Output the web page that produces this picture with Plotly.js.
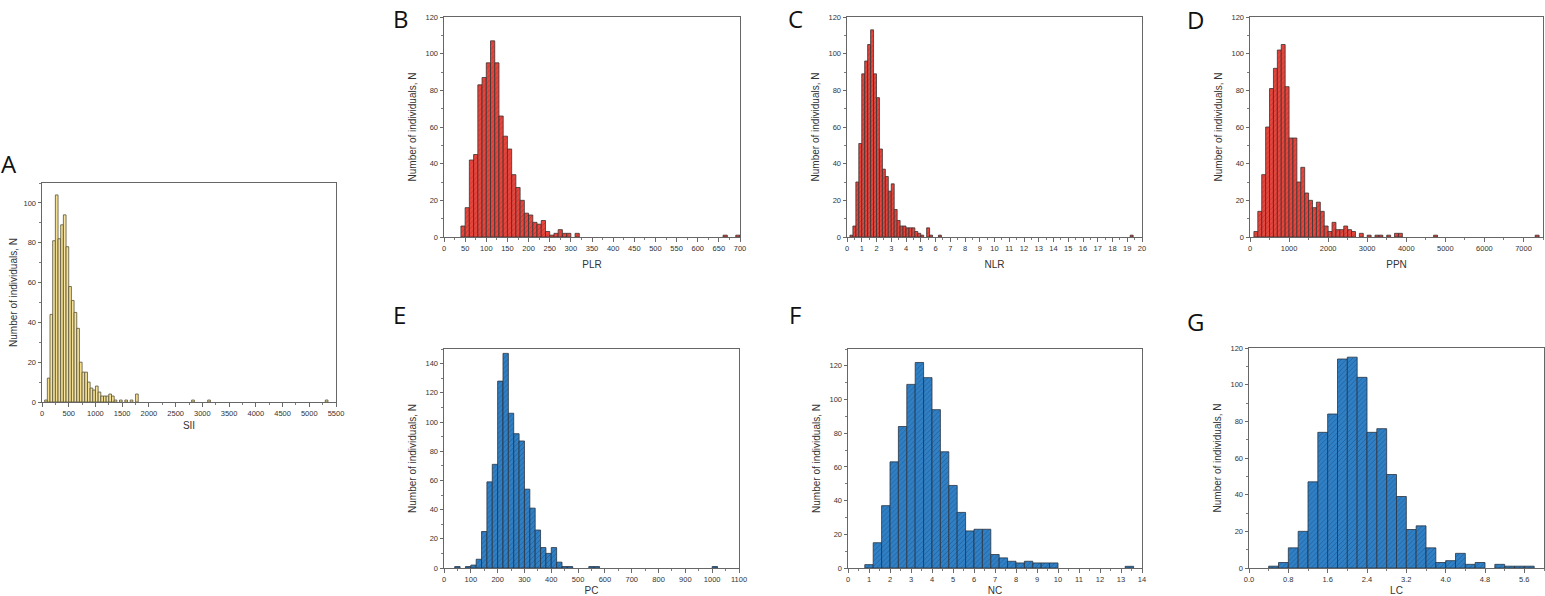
<!DOCTYPE html>
<html>
<head>
<meta charset="utf-8">
<script src="https://cdn.plot.ly/plotly-3.0.1.min.js"></script>
<style>html,body{margin:0;padding:0;background:#fff;}#chart{width:1545px;height:596px;}</style>
</head>
<body>
<div id="chart"></div>
<script>
// ---- Data (bin start values and counts) ----
// A: SII, bin width 50
const siiBins = [50,100,150,200,250,300,350,400,450,500,550,600,650,700,750,800,850,900,950,1000,1050,1100,1150,1200,1250,1300,1350,1450,1550,1650,1750,2800,3100,5300];
const siiCounts = [1,12,44,81,104,82,89,94,78,58,51,45,37,20,15,15,10,7,6,8,5,3,3,3,4,3,1,1,1,1,4,1,1,1];
// B: PLR, bin width 10
const plrBins = [40,50,60,70,80,90,100,110,120,130,140,150,160,170,180,190,200,210,220,230,240,250,260,270,280,290,310,660,690];
const plrCounts = [6,16,42,45,83,87,95,107,95,66,55,48,34,27,20,13,12,8,7,9,3,1,2,4,2,2,2,1,1];
// C: NLR, bin width 0.2
const nlrBins = [0.2,0.4,0.6,0.8,1.0,1.2,1.4,1.6,1.8,2.0,2.2,2.4,2.6,2.8,3.0,3.2,3.4,3.6,3.8,4.0,4.2,4.4,4.6,4.8,5.0,5.4,5.6,6.2,19.2];
const nlrCounts = [1,6,30,51,89,96,105,113,89,76,48,37,33,25,29,15,9,6,6,5,5,5,3,2,1,5,1,1,1];
// D: PPN, bin width 100
const ppnBins = [100,200,300,400,500,600,700,800,900,1000,1100,1200,1300,1400,1500,1600,1700,1800,1900,2000,2100,2200,2300,2400,2500,2600,2800,3000,3200,3300,3500,3700,3800,4700,7300];
const ppnCounts = [3,14,34,60,81,92,102,105,82,54,54,30,38,24,20,16,19,14,6,3,8,4,4,6,4,3,2,1,1,1,1,2,2,1,1];
// E: PC, bin width 20
const pcBins = [40,80,100,120,140,160,180,200,220,240,260,280,300,320,340,360,380,400,420,440,460,540,560,1000];
const pcCounts = [1,1,2,6,25,59,71,128,147,106,92,87,54,41,26,14,10,14,4,1,1,1,1,1];
// F: NC, bin width 0.4
const ncBins = [0.8,1.2,1.6,2.0,2.4,2.8,3.2,3.6,4.0,4.4,4.8,5.2,5.6,6.0,6.4,6.8,7.2,7.6,8.0,8.4,8.8,9.2,9.6,13.2];
const ncCounts = [2,15,37,63,84,109,122,113,94,69,49,33,22,23,23,8,6,4,3,4,3,3,3,1];
// G: LC, bin width 0.2
const lcBins = [0.4,0.6,0.8,1.0,1.2,1.4,1.6,1.8,2.0,2.2,2.4,2.6,2.8,3.0,3.2,3.4,3.6,3.8,4.0,4.2,4.4,4.6,5.0,5.2,5.4,5.6];
const lcCounts = [1,3,11,20,47,74,84,114,115,104,74,76,51,39,21,23,11,3,4,8,2,3,2,1,1,1];

const panelLetters = ['A','B','C','D','E','F','G'];
const axisNames = ['SII','PLR','NLR','PPN','PC','NC','LC'];
const yTitle = 'Number of individuals, N';

// ---- Styling ----
const W = 1545, H = 596;
const yellow = {bg:'#f5dd8a', fg:'#fcefc0', shape:'|', line:'#55503a'};
const red = {bg:'#e8463d', fg:'#bd342d', shape:'/', line:'#3a3232'};
const blue = {bg:'#3080c6', fg:'#215d98', shape:'/', line:'#2a3440'};

// letter: [center x, y, anchor]
const panels = [
  {bins:siiBins, counts:siiCounts, w:50,  col:yellow, px:[42,336],  py:[183,402], xr:[0,5500], xd:500,  xm:250, yr:[0,110], yd:20, ym:10, letter:[9,164,'middle'],  lfmt:''},
  {bins:plrBins, counts:plrCounts, w:10,  col:red,    px:[444,740], py:[17,237],  xr:[0,700],  xd:50,   xm:25,  yr:[0,120], yd:20, ym:10, letter:[401,0,'top'],    lfmt:''},
  {bins:nlrBins, counts:nlrCounts, w:0.2, col:red,    px:[847,1142],py:[17,237],  xr:[0,20],   xd:1,    xm:0.5, yr:[0,120], yd:20, ym:10, letter:[795,0,'top'],    lfmt:''},
  {bins:ppnBins, counts:ppnCounts, w:100, col:red,    px:[1250,1543],py:[17,237], xr:[0,7500], xd:1000, xm:500, yr:[0,120], yd:20, ym:10, letter:[1195,1,'top'],   lfmt:''},
  {bins:pcBins,  counts:pcCounts,  w:20,  col:blue,   px:[444,739], py:[349,568], xr:[0,1100], xd:100,  xm:50,  yr:[0,150], yd:20, ym:10, letter:[400,314,'middle'],lfmt:''},
  {bins:ncBins,  counts:ncCounts,  w:0.4, col:blue,   px:[848,1142],py:[349,568], xr:[0,14],   xd:1,    xm:0.5, yr:[0,130], yd:20, ym:10, letter:[795,314,'middle'],lfmt:''},
  {bins:lcBins,  counts:lcCounts,  w:0.2, col:blue,   px:[1249,1544],py:[348,568],xr:[0,6],    xd:0.8,  xm:0.4, yr:[0,120], yd:20, ym:10, letter:[1195,321,'middle'],lfmt:'.1f'}
];

const tickFont = {family:'Liberation Sans, Arial, sans-serif', size:7.5, color:'#333'};
const titleFont = {family:'Liberation Sans, Arial, sans-serif', size:10, color:'#333'};

const data = [];
const layout = {
  width:W, height:H,
  margin:{l:0,r:0,t:0,b:0},
  paper_bgcolor:'#fff', plot_bgcolor:'#fff',
  showlegend:false,
  annotations:[]
};

panels.forEach((p, i) => {
  const k = i === 0 ? '' : String(i+1);
  data.push({
    type:'bar',
    x:p.bins, y:p.counts,
    width:p.w, offset:0,
    xaxis:'x'+k, yaxis:'y'+k,
    marker:{
      color:p.col.bg,
      line:{color:p.col.line, width:0.8},
      pattern:{shape:p.col.shape, fgcolor:p.col.fg, bgcolor:p.col.bg, size:3.5, solidity:0.22}
    },
    hoverinfo:'x+y'
  });
  const common = {
    showline:true, linecolor:'#666', linewidth:1, mirror:true,
    ticks:'outside', ticklen:3.5, tickwidth:0.8, tickcolor:'#444',
    showgrid:false, zeroline:false, tickfont:tickFont
  };
  layout['xaxis'+k] = Object.assign({}, common, {
    domain:[p.px[0]/W, p.px[1]/W],
    anchor:'y'+k,
    range:p.xr, tick0:0, dtick:p.xd, tickformat:p.lfmt,
    minor:{dtick:p.xm, tick0:0, ticks:'outside', ticklen:2, tickcolor:'#444', tickwidth:0.7},
    title:{text:axisNames[i], font:titleFont, standoff:i===0?5:9}
  });
  layout['yaxis'+k] = Object.assign({}, common, {
    domain:[1 - p.py[1]/H, 1 - p.py[0]/H],
    anchor:'x'+k,
    range:p.yr, tick0:0, dtick:p.yd,
    minor:{dtick:p.ym, tick0:0, ticks:'outside', ticklen:2, tickcolor:'#444', tickwidth:0.7},
    title:{text:yTitle, font:titleFont, standoff:i===0?3:6}
  });
  layout.annotations.push({
    text:panelLetters[i], xref:'paper', yref:'paper',
    x:p.letter[0]/W, y:1 - p.letter[1]/H,
    xanchor:'center', yanchor:p.letter[2], showarrow:false,
    font:{family:'Open Sans, Noto Sans, sans-serif', size:24, color:'#111'}
  });
});

Plotly.newPlot('chart', data, layout, {displayModeBar:false, staticPlot:true});
</script>
</body>
</html>
